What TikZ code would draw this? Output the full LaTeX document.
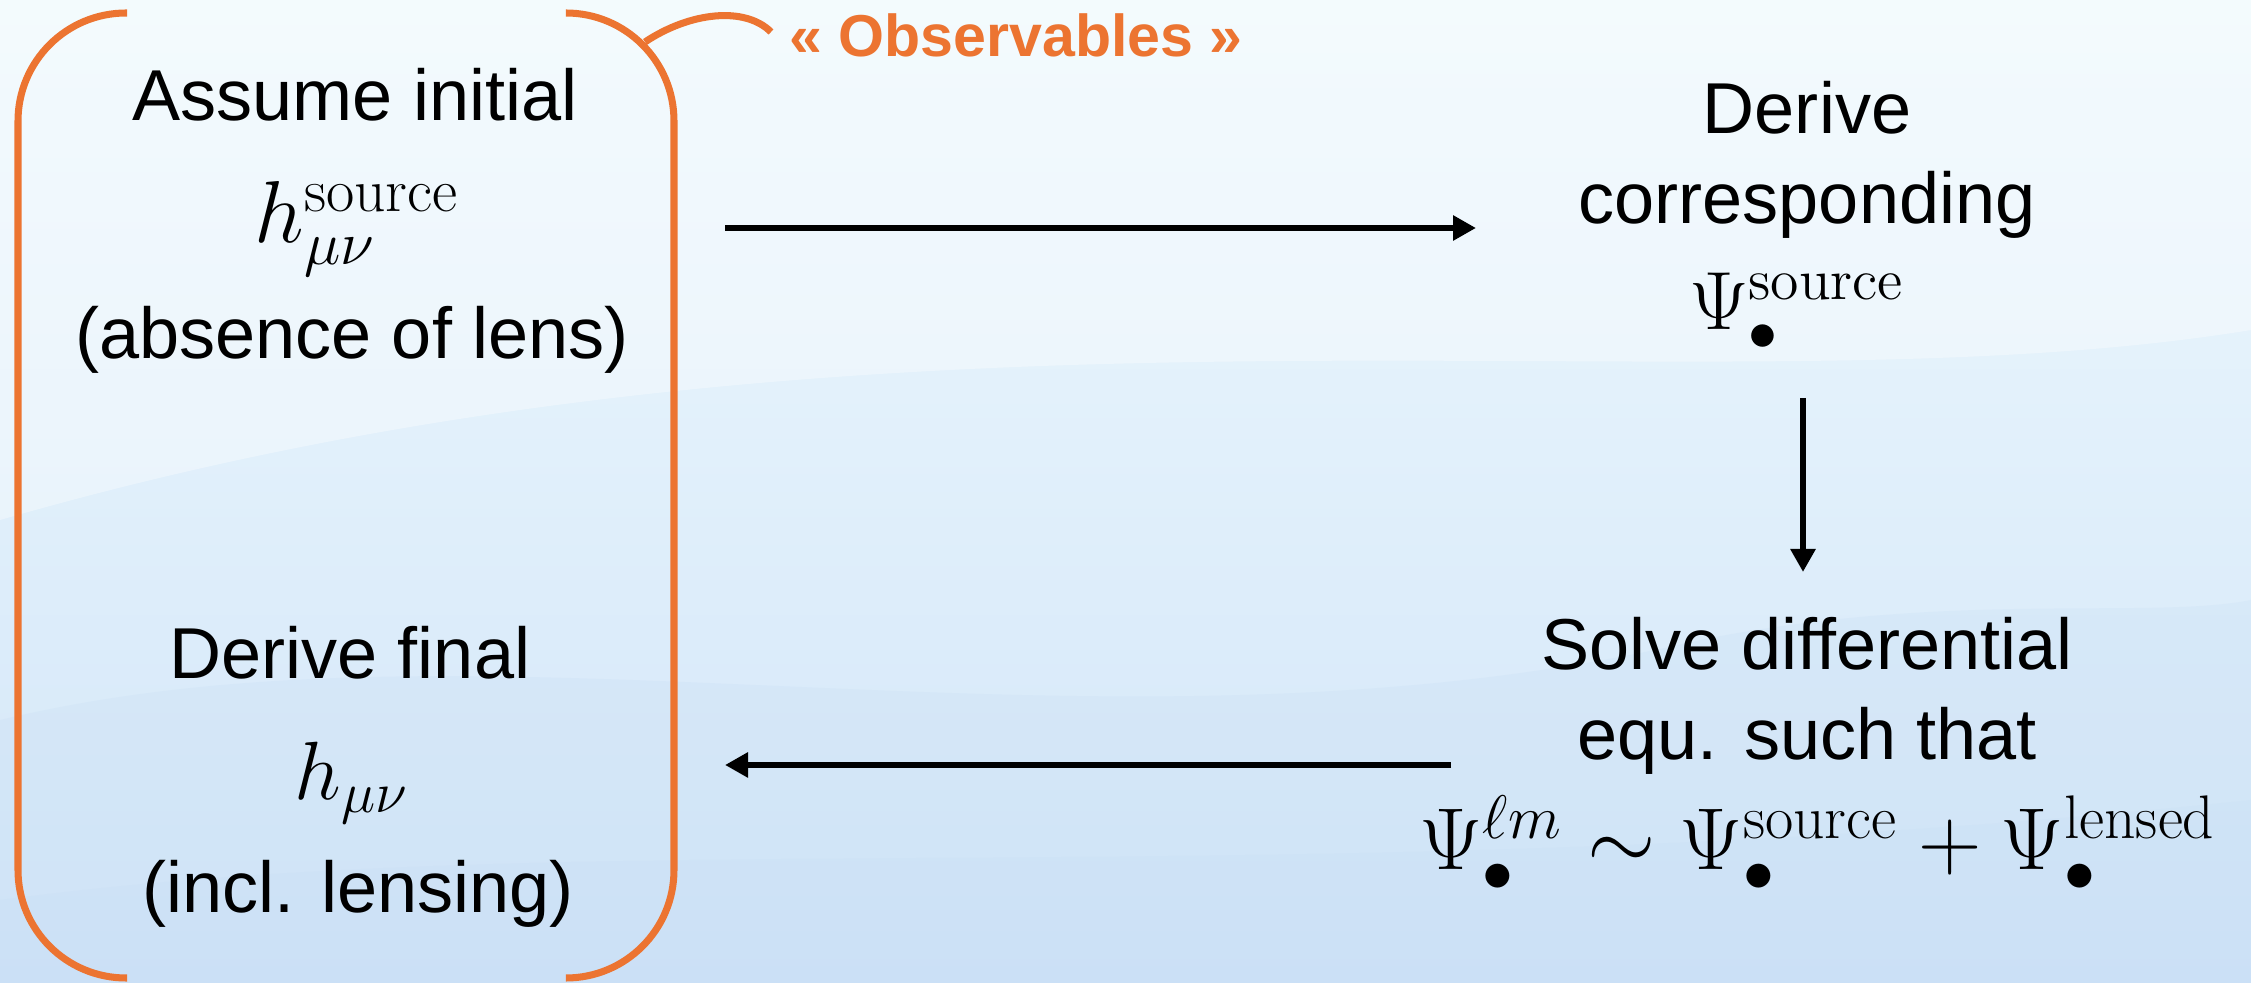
\RequirePackage{fix-cm}
\documentclass[tikz,border=0pt]{standalone}
\usepackage[no-math]{fontspec}
\setmainfont{Liberation Sans}
\usetikzlibrary{arrows.meta}
\definecolor{orng}{HTML}{EC7431}
\definecolor{bgtop}{HTML}{EEF9FD}
\definecolor{bgbot}{HTML}{D2E5F8}
\definecolor{wave}{HTML}{BFD9F3}
\begin{document}
\begin{tikzpicture}[x=0.01cm,y=-0.01cm,
  txt/.style={anchor=base, inner sep=0pt, font=\fontsize{20.5}{24}\selectfont},
  mth/.style={anchor=base, inner sep=0pt, font=\fontsize{25}{30}\selectfont},
  mths/.style={anchor=base, inner sep=0pt, font=\fontsize{23.5}{28}\selectfont},
  flow/.style={line width=1.7pt, -{Triangle[length=0.23cm,width=0.24cm]}},
  brk/.style={orng, line width=2pt, rounded corners=1.08cm},
  obs/.style={anchor=base, inner sep=0pt, text=orng, font=\fontsize{16.8}{20}\selectfont\bfseries}]
% background
\useasboundingbox (0,0) rectangle (2251,983);
\fill[top color=bgtop, bottom color=bgbot] (0,0) rectangle (2251,983);
\fill[white, opacity=0.35] (0,0) -- (2251,0) -- (2251,330)
  .. controls (1700,420) and (900,260) .. (0,520) -- cycle;
\fill[wave, opacity=0.18] (0,983) -- (0,720) .. controls (500,600) and (1100,780) .. (1700,640)
  .. controls (1950,590) and (2150,620) .. (2251,600) -- (2251,983) -- cycle;
\fill[wave, opacity=0.15] (0,983) -- (0,900) .. controls (600,820) and (1300,900) .. (2251,800) -- (2251,983) -- cycle;
% bracket
\draw[brk] (127,13) -- (18,13) -- (18,978) -- (127,978);
\draw[brk] (566,13) -- (674,13) -- (674,978) -- (566,978);
\coordinate (cs) at (645,42);
\coordinate (ce) at (771,32);
\draw[orng, line width=2pt] (cs) .. controls (690,12) and (745,6) .. (ce);
\node[obs] (obsl) at (1016,57) {« Observables »};
% left column
\node[txt] (l1) at (355,121) {Assume initial};
\node[mth] (l2) at (357,243) {$h^{\mathrm{source}}_{\mu\nu}$};
\node[txt] (l3) at (352,359) {(absence of lens)};
\node[txt] (l4) at (350,679) {Derive final};
\node[mths] (l5) at (352,800) {$h_{\mu\nu}$};
\node[txt] (l6) at (358,913) {(incl. lensing)};
% right column
\node[txt] (r1) at (1807,134) {Derive};
\node[txt] (r2) at (1807,224) {corresponding};
\node[mths] (r3) at (1797,330) {$\Psi^{\mathrm{source}}_{\bullet}$};
\node[txt] (r4) at (1807,670) {Solve differential};
\node[txt] (r5) at (1807,760) {equ. such that};
\node[mth] (r6) at (1818,870) {$\Psi^{\ell m}_{\bullet}\sim\Psi^{\mathrm{source}}_{\bullet}+\Psi^{\mathrm{lensed}}_{\bullet}$};
% arrows
\coordinate (a1s) at (725,228);
\coordinate (a1e) at (1476,228);
\coordinate (a2s) at (1803,398);
\coordinate (a2e) at (1803,572);
\coordinate (a3s) at (1451,765);
\coordinate (a3e) at (725,765);
\draw[flow] (a1s) -- (a1e);
\draw[flow] (a2s) -- (a2e);
\draw[flow] (a3s) -- (a3e);
\end{tikzpicture}
\end{document}
